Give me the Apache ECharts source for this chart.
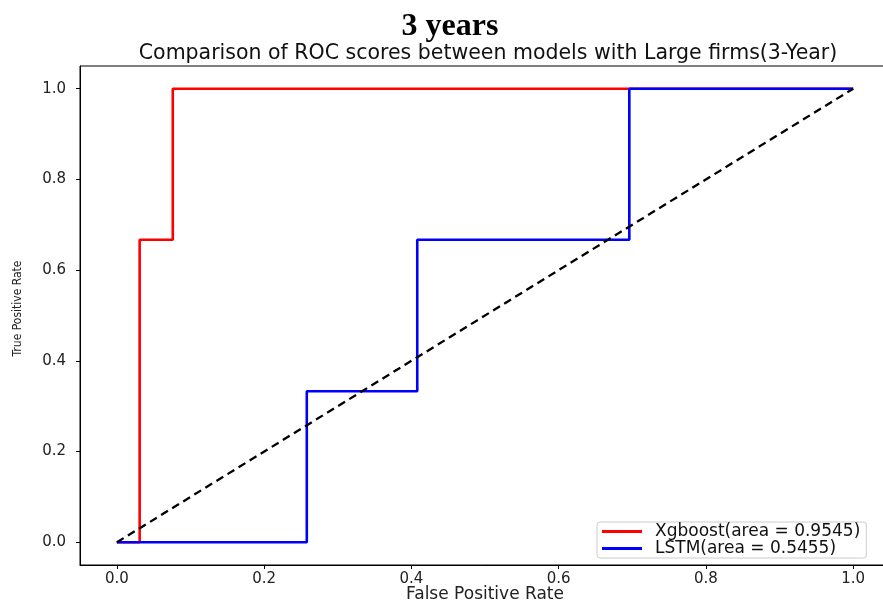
<!DOCTYPE html>
<html><head><meta charset="utf-8">
<script src="https://cdn.jsdelivr.net/npm/echarts@6/dist/echarts.min.js"></script>
<style>html,body{margin:0;padding:0;background:#fff}#c{width:883px;height:604px}</style>
</head><body><div id="c"></div>
<script>
const xgbFpr = [0, 0.031, 0.031, 0.076, 0.076, 1.0];
const xgbTpr = [0, 0, 0.667, 0.667, 1.0, 1.0];
const lstmFpr = [0, 0.258, 0.258, 0.408, 0.408, 0.696, 0.696, 1.0];
const lstmTpr = [0, 0, 0.333, 0.333, 0.667, 0.667, 1.0, 1.0];
const diagX = [0, 1];
const diagY = [0, 1];
const tickValues = [0, 0.2, 0.4, 0.6, 0.8, 1.0];
const names = ['Xgboost(area = 0.9545)', 'LSTM(area = 0.5455)'];

const zip = (a, b) => a.map((v, i) => [v, b[i]]);
const chart = echarts.init(document.getElementById('c'), null, {renderer: 'canvas'});
const tickFont = {fontFamily: 'DejaVu Sans', fontSize: 15, color: '#222'};
chart.setOption({
  animation: false,
  backgroundColor: '#fff',
  title: [
    {text: '3 years', left: 445, top: 6, textAlign: 'center',
     textStyle: {fontFamily: 'Liberation Serif', fontWeight: 'bold', fontSize: 32, color: '#000'}},
    {text: 'Comparison of ROC scores between models with Large firms(3-Year)', left: 483, top: 38, textAlign: 'center',
     textStyle: {fontFamily: 'DejaVu Sans', fontWeight: 'normal', fontSize: 20.5, color: '#111'}}
  ],
  grid: {left: 80, top: 66, width: 810, height: 499, show: true, borderColor: '#000', borderWidth: 1,
         containLabel: false, outerBoundsMode: 'none'},
  legend: {
    orient: 'vertical', left: 597, top: 522, itemWidth: 40, itemHeight: 3, itemGap: 0,
    padding: [1, 6, 1, 5],
    borderColor: '#ccc', borderWidth: 1, borderRadius: 3, backgroundColor: 'rgba(255,255,255,0.85)',
    textStyle: {fontFamily: 'DejaVu Sans', fontSize: 17, lineHeight: 17, color: '#111', padding: [0, 0, 0, 8]},
    data: [{name: names[0], icon: 'rect'}, {name: names[1], icon: 'rect'}]
  },
  xAxis: {
    type: 'value', min: -0.05, max: 1.05,
    name: 'False Positive Rate', nameLocation: 'middle', nameGap: 21, nameMoveOverlap: false,
    nameTextStyle: {fontFamily: 'DejaVu Sans', fontSize: 17, color: '#222'},
    axisLine: {show: true, onZero: false, lineStyle: {color: '#000', width: 1}},
    axisTick: {show: true, length: 4, lineStyle: {color: '#000'}, customValues: tickValues},
    axisLabel: Object.assign({customValues: tickValues, margin: 7, formatter: v => v.toFixed(1)}, tickFont),
    splitLine: {show: false}
  },
  yAxis: {
    type: 'value', min: -0.05, max: 1.05,
    name: 'True Positive Rate', nameLocation: 'middle', nameGap: 56, nameMoveOverlap: false,
    nameTextStyle: {fontFamily: "'Liberation Sans Narrow', 'DejaVu Sans Condensed', 'Liberation Sans', sans-serif",
                    fontSize: 12, color: '#222', padding: [0, 0, 0, 14]},
    axisLine: {show: true, onZero: false, lineStyle: {color: '#000', width: 1}},
    axisTick: {show: true, length: 4, lineStyle: {color: '#000'}, customValues: tickValues},
    axisLabel: Object.assign({customValues: tickValues, margin: 14, formatter: v => v.toFixed(1)}, tickFont),
    splitLine: {show: false}
  },
  series: [
    {name: names[0], type: 'line', data: zip(xgbFpr, xgbTpr), showSymbol: false, symbol: 'none',
     lineStyle: {color: '#ff0000', width: 2.6}, itemStyle: {color: '#ff0000'}, z: 2},
    {name: names[1], type: 'line', data: zip(lstmFpr, lstmTpr), showSymbol: false, symbol: 'none',
     lineStyle: {color: '#0000ff', width: 2.6}, itemStyle: {color: '#0000ff'}, z: 3},
    {name: 'diag', type: 'line', data: zip(diagX, diagY), showSymbol: false, symbol: 'none',
     lineStyle: {color: '#000', width: 2.3, type: [8, 5]}, z: 4}
  ]
});
</script></body></html>
